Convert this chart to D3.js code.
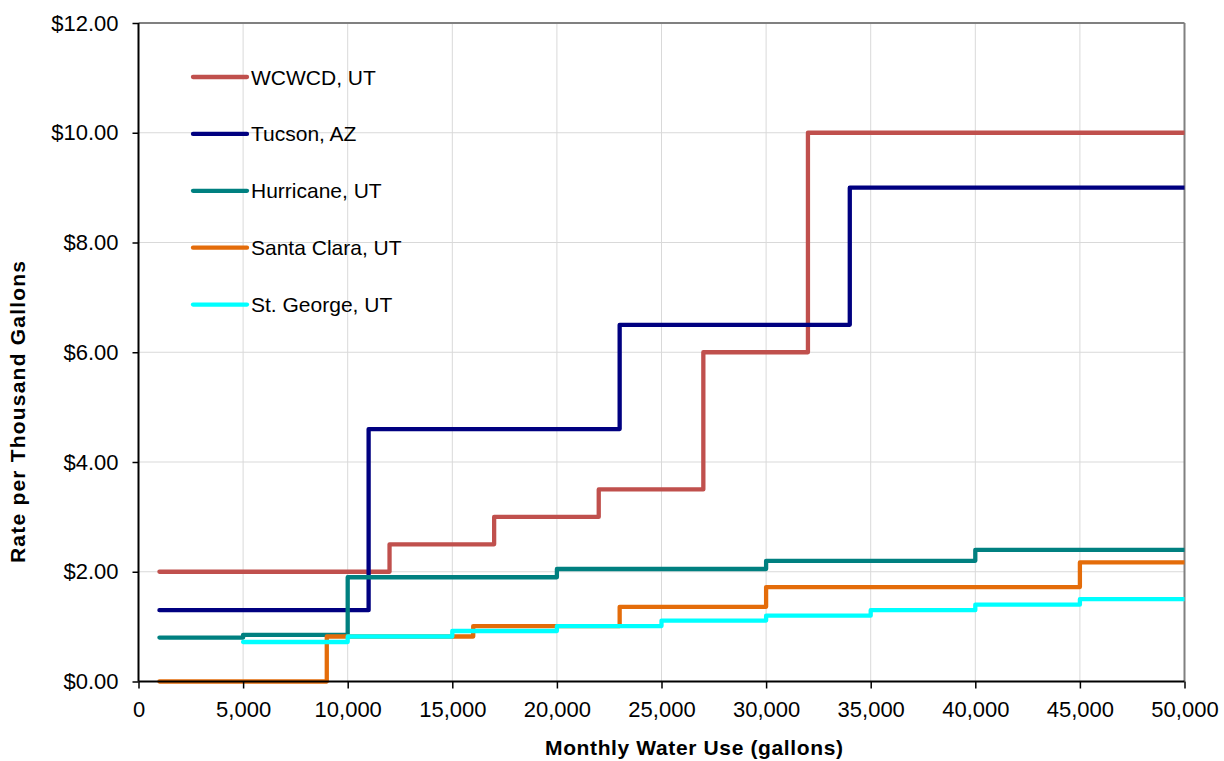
<!DOCTYPE html>
<html>
<head>
<meta charset="utf-8">
<script src="https://cdn.jsdelivr.net/npm/d3@7/dist/d3.min.js"></script>
<style>
  body { margin: 0; background: #fff; }
  text { font-family: "Liberation Sans", Arial, sans-serif; fill: #000; }
</style>
</head>
<body>
<div id="chart"></div>
<script>
// step breakpoints (gallons) and rates ($ per thousand gallons)
var seriesNames = ["WCWCD, UT", "Tucson, AZ", "Hurricane, UT", "Santa Clara, UT", "St. George, UT"];
var seriesColors = ["#C0504D", "#000080", "#008080", "#E46C0A", "#00FFFF"];

var wcwcdGallons = [1000, 12000, 17000, 22000, 27000, 32000, 50000];
var wcwcdRates   = [2.00, 2.50, 3.00, 3.50, 6.00, 10.00, 10.00];

var tucsonGallons = [1000, 11000, 23000, 34000, 50000];
var tucsonRates   = [1.30, 4.60, 6.50, 9.00, 9.00];

var hurricaneGallons = [1000, 5000, 10000, 20000, 30000, 40000, 50000];
var hurricaneRates   = [0.80, 0.85, 1.90, 2.05, 2.20, 2.40, 2.40];

var santaClaraGallons = [1000, 9000, 16000, 23000, 30000, 45000, 50000];
var santaClaraRates   = [0.00, 0.82, 1.01, 1.36, 1.72, 2.17, 2.17];

var stGeorgeGallons = [5000, 10000, 15000, 20000, 25000, 30000, 35000, 40000, 45000, 50000];
var stGeorgeRates   = [0.72, 0.82, 0.92, 1.01, 1.11, 1.20, 1.30, 1.40, 1.50, 1.50];

var xTicks = [0, 5000, 10000, 15000, 20000, 25000, 30000, 35000, 40000, 45000, 50000];
var yTicks = [0, 2, 4, 6, 8, 10, 12];

var allGallons = [wcwcdGallons, tucsonGallons, hurricaneGallons, santaClaraGallons, stGeorgeGallons];
var allRates = [wcwcdRates, tucsonRates, hurricaneRates, santaClaraRates, stGeorgeRates];

var width = 1224, height = 761;
var margin = {top: 23, right: 39.5, bottom: 79.5, left: 138.5};
var iw = width - margin.left - margin.right,
    ih = height - margin.top - margin.bottom;

var svg = d3.select("#chart").append("svg")
  .attr("width", width).attr("height", height);

var x = d3.scaleLinear().domain([0, 50000]).range([0, iw]);
var y = d3.scaleLinear().domain([0, 12]).range([ih, 0]);

var g = svg.append("g").attr("transform", "translate(" + margin.left + "," + margin.top + ")");

// grid
g.append("g").selectAll("line").data(xTicks.slice(1, -1)).join("line")
  .attr("x1", d => x(d)).attr("x2", d => x(d))
  .attr("y1", 0).attr("y2", ih)
  .attr("stroke", "#d9d9d9").attr("stroke-width", 1);
g.append("g").selectAll("line").data(yTicks.slice(1, -1)).join("line")
  .attr("x1", 0).attr("x2", iw)
  .attr("y1", d => y(d)).attr("y2", d => y(d))
  .attr("stroke", "#d9d9d9").attr("stroke-width", 1);

// top and right border
g.append("line").attr("x1", 0).attr("x2", iw).attr("y1", 0).attr("y2", 0)
  .attr("stroke", "#808080").attr("stroke-width", 2);
g.append("line").attr("x1", iw).attr("x2", iw).attr("y1", 0).attr("y2", ih)
  .attr("stroke", "#808080").attr("stroke-width", 2);

// series
svg.append("clipPath").attr("id", "plotclip")
  .append("rect").attr("x", 0).attr("y", -5).attr("width", iw).attr("height", ih + 10);

var line = d3.line()
  .x(d => x(d[0])).y(d => y(d[1]))
  .curve(d3.curveStepAfter);

var plot = g.append("g").attr("clip-path", "url(#plotclip)");
allGallons.forEach(function(gal, i){
  var pts = gal.map((v, j) => [v, allRates[i][j]]);
  plot.append("path")
    .attr("d", line(pts))
    .attr("fill", "none")
    .attr("stroke", seriesColors[i])
    .attr("stroke-width", 4.3)
    .attr("stroke-linejoin", "round")
    .attr("stroke-linecap", "round");
});

// axes
var xAxis = d3.axisBottom(x).tickValues(xTicks).tickSize(7).tickPadding(13)
  .tickFormat(d3.format(","));
var yAxis = d3.axisLeft(y).tickValues(yTicks).tickSize(6).tickPadding(14)
  .tickFormat(d => "$" + d3.format(".2f")(d));

var gx = g.append("g").attr("transform", "translate(0," + ih + ")").call(xAxis);
var gy = g.append("g").call(yAxis);
[gx, gy].forEach(function(a){
  a.select(".domain").attr("stroke", "#000").attr("stroke-width", 2);
  a.selectAll(".tick line").attr("stroke", "#000").attr("stroke-width", 1.5);
  a.selectAll(".tick text").attr("font-size", 22)
    .attr("font-family", "Liberation Sans, Arial, sans-serif").attr("fill", "#000");
});
gx.select(".domain").attr("d", "M0,0H" + iw);
gy.select(".domain").attr("d", "M0,0V" + ih);

// axis titles
svg.append("text")
  .attr("x", 545).attr("y", 755)
  .attr("font-size", 21).attr("font-weight", "bold")
  .attr("textLength", 298).attr("lengthAdjust", "spacing")
  .text("Monthly Water Use (gallons)");

svg.append("text")
  .attr("transform", "translate(25,563) rotate(-90)")
  .attr("font-size", 21).attr("font-weight", "bold")
  .attr("textLength", 302).attr("lengthAdjust", "spacing")
  .text("Rate per Thousand Gallons");

// legend
var legend = svg.append("g").attr("transform", "translate(193,77)");
var rows = legend.selectAll("g").data(seriesNames).join("g")
  .attr("transform", (d, i) => "translate(0," + i * 56.9 + ")");
rows.append("line")
  .attr("x1", 0).attr("x2", 54).attr("y1", 0).attr("y2", 0)
  .attr("stroke", (d, i) => seriesColors[i])
  .attr("stroke-width", 4.3).attr("stroke-linecap", "round");
rows.append("text")
  .attr("x", 58).attr("y", 7.5)
  .attr("font-size", 21)
  .text(d => d);
</script>
</body>
</html>
